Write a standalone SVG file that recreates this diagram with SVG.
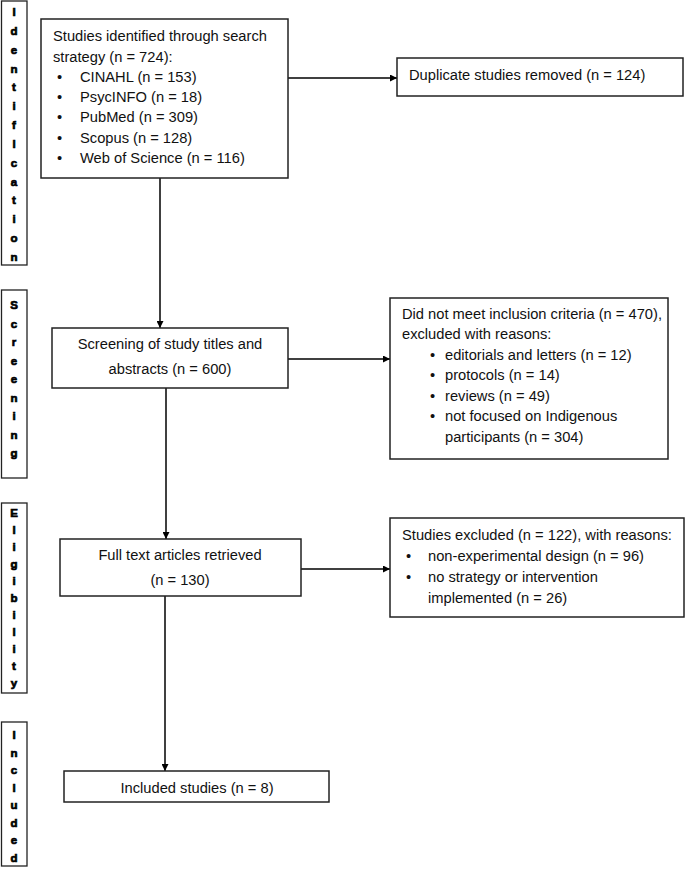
<svg xmlns="http://www.w3.org/2000/svg" width="685" height="869" viewBox="0 0 685 869">
<style>
.box{fill:#fff;stroke:#222;stroke-width:1.5}
.side{fill:#fff;stroke:#222;stroke-width:1.3}
.t{font-family:"Liberation Sans",Arial,sans-serif;font-size:14.7px;fill:#111}
.c{text-anchor:middle}
.s{font-family:"Liberation Sans",Arial,sans-serif;font-size:11.5px;font-weight:bold;fill:#000;stroke:#000;stroke-width:0.7;text-anchor:middle}
.ln{fill:none;stroke:#000;stroke-width:1.5}
</style>
<defs>
<marker id="ah" viewBox="0 0 10 10" refX="10" refY="5" markerWidth="7" markerHeight="7" markerUnits="userSpaceOnUse" orient="auto">
<path d="M0,0 L10,5 L0,10 z" fill="#000"/>
</marker>
</defs>
<rect width="685" height="869" fill="#fff"/>

<g id="side-identification">
<rect class="side" x="1.5" y="1" width="25.5" height="264"/>
<text class="s"><tspan x="14" y="16">I</tspan><tspan x="14" y="35">d</tspan><tspan x="14" y="54">e</tspan><tspan x="14" y="73">n</tspan><tspan x="14" y="91">t</tspan><tspan x="14" y="110">i</tspan><tspan x="14" y="129">f</tspan><tspan x="14" y="148">l</tspan><tspan x="14" y="167">c</tspan><tspan x="14" y="186">a</tspan><tspan x="14" y="204">t</tspan><tspan x="14" y="223">i</tspan><tspan x="14" y="242">o</tspan><tspan x="14" y="261">n</tspan></text>
</g>
<g id="side-screening">
<rect class="side" x="1.5" y="290" width="25.5" height="188"/>
<text class="s"><tspan x="14" y="309">S</tspan><tspan x="14" y="328">c</tspan><tspan x="14" y="346">r</tspan><tspan x="14" y="365">e</tspan><tspan x="14" y="383">e</tspan><tspan x="14" y="402">n</tspan><tspan x="14" y="420">i</tspan><tspan x="14" y="439">n</tspan><tspan x="14" y="457">g</tspan></text>
</g>
<g id="side-eligibility">
<rect class="side" x="1.5" y="503" width="25.5" height="190"/>
<text class="s"><tspan x="14" y="517">E</tspan><tspan x="14" y="534">l</tspan><tspan x="14" y="551">i</tspan><tspan x="14" y="568">g</tspan><tspan x="14" y="585">i</tspan><tspan x="14" y="602">b</tspan><tspan x="14" y="619">i</tspan><tspan x="14" y="636">l</tspan><tspan x="14" y="653">i</tspan><tspan x="14" y="670">t</tspan><tspan x="14" y="687">y</tspan></text>
</g>
<g id="side-included">
<rect class="side" x="1.5" y="722" width="25.5" height="144"/>
<text class="s"><tspan x="14" y="739">I</tspan><tspan x="14" y="757">n</tspan><tspan x="14" y="774">c</tspan><tspan x="14" y="792">l</tspan><tspan x="14" y="809">u</tspan><tspan x="14" y="827">d</tspan><tspan x="14" y="844">e</tspan><tspan x="14" y="862">d</tspan></text>
</g>

<g id="connectors">
<line class="ln" x1="288" y1="78" x2="397" y2="78" marker-end="url(#ah)"/>
<line class="ln" x1="160" y1="178" x2="160" y2="328" marker-end="url(#ah)"/>
<line class="ln" x1="288" y1="359" x2="390" y2="359" marker-end="url(#ah)"/>
<line class="ln" x1="166" y1="388" x2="166" y2="539" marker-end="url(#ah)"/>
<line class="ln" x1="301" y1="569" x2="390" y2="569" marker-end="url(#ah)"/>
<line class="ln" x1="165" y1="596" x2="165" y2="771" marker-end="url(#ah)"/>
</g>

<g id="identified">
<rect class="box" x="41" y="19" width="247" height="159"/>
<text class="t" x="53" y="41">Studies identified through search</text>
<text class="t" x="53" y="62">strategy (n = 724):</text>
<g class="t"><text x="57" y="82">•</text><text x="57" y="102">•</text><text x="57" y="122">•</text><text x="57" y="143">•</text><text x="57" y="163">•</text></g>
<text class="t" x="80" y="82">CINAHL (n = 153)</text>
<text class="t" x="80" y="102">PsycINFO (n = 18)</text>
<text class="t" x="80" y="122">PubMed (n = 309)</text>
<text class="t" x="80" y="143">Scopus (n = 128)</text>
<text class="t" x="80" y="163">Web of Science (n = 116)</text>
</g>

<g id="duplicates">
<rect class="box" x="397" y="58" width="286" height="38"/>
<text class="t" x="409" y="80">Duplicate studies removed (n = 124)</text>
</g>

<g id="screening">
<rect class="box" x="52" y="328" width="236" height="60"/>
<text class="t c" x="170" y="349">Screening of study titles and</text>
<text class="t c" x="170" y="374">abstracts (n = 600)</text>
</g>

<g id="excluded-screening">
<rect class="box" x="390" y="298" width="278" height="161"/>
<text class="t" x="402" y="319">Did not meet inclusion criteria (n = 470),</text>
<text class="t" x="402" y="339">excluded with reasons:</text>
<g class="t"><text x="430" y="360">•</text><text x="430" y="380">•</text><text x="430" y="401">•</text><text x="430" y="421">•</text></g>
<text class="t" x="445" y="360">editorials and letters (n = 12)</text>
<text class="t" x="445" y="380">protocols (n = 14)</text>
<text class="t" x="445" y="401">reviews (n = 49)</text>
<text class="t" x="445" y="421">not focused on Indigenous</text>
<text class="t" x="445" y="442">participants (n = 304)</text>
</g>

<g id="fulltext">
<rect class="box" x="60" y="539" width="241" height="57"/>
<text class="t c" x="180" y="560">Full text articles retrieved</text>
<text class="t c" x="180" y="585">(n = 130)</text>
</g>

<g id="excluded-fulltext">
<rect class="box" x="390" y="518" width="294" height="99"/>
<text class="t" x="402" y="540">Studies excluded (n = 122), with reasons:</text>
<g class="t"><text x="406" y="561">•</text><text x="406" y="582">•</text></g>
<text class="t" x="428" y="561">non-experimental design (n = 96)</text>
<text class="t" x="428" y="582">no strategy or intervention</text>
<text class="t" x="428" y="603">implemented (n = 26)</text>
</g>

<g id="included">
<rect class="box" x="64" y="771" width="265" height="31"/>
<text class="t c" x="197" y="793">Included studies (n = 8)</text>
</g>
</svg>
